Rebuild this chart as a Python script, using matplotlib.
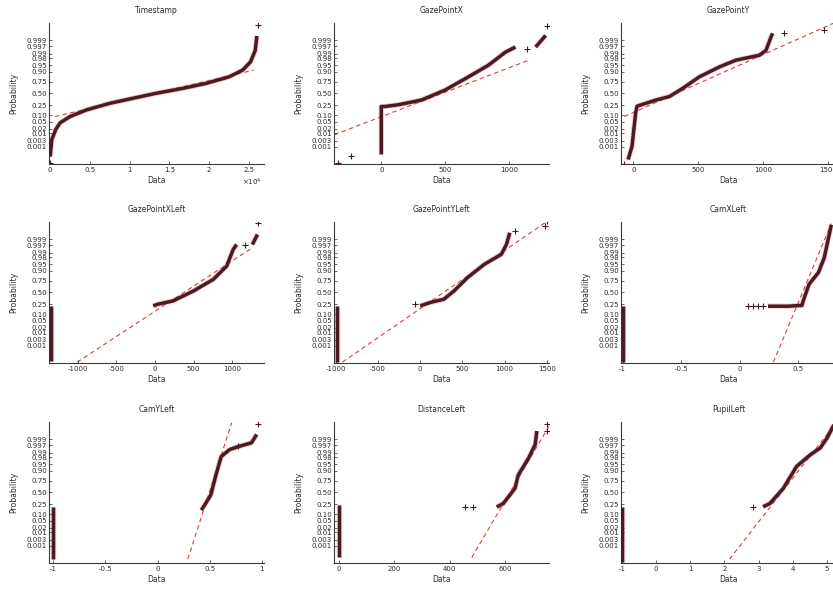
import matplotlib
matplotlib.use("Agg")
import matplotlib.pyplot as plt
import numpy as np
from statistics import NormalDist
from matplotlib.ticker import FixedLocator, FuncFormatter, NullLocator

# ---- data (x = data value, p = probability) ----

# Timestamp
ts_x = [0, 200, 700, 1250, 2500, 4600, 7500, 10400, 13300, 16700, 19600, 22500, 24200, 25200, 25800, 26000]
ts_p = [0.00012, 0.0036, 0.018, 0.044, 0.090, 0.171, 0.284, 0.390, 0.504, 0.618, 0.722, 0.834, 0.913, 0.967, 0.994, 0.9996]
ts_out_x = [0, 26100]
ts_out_p = [0.000025, 0.99997]
ts_ref_x = [600, 25600]
ts_ref_p = [0.090, 0.913]

# GazePointX
gx_x = [0, 0, 26, 131, 316, 500, 684, 842, 974, 1053]
gx_p = [0.00019, 0.224, 0.224, 0.255, 0.352, 0.579, 0.834, 0.951, 0.992, 0.9966]
gx_x2 = [1211, 1290]
gx_p2 = [0.9966, 0.99964]
gx_out_x = [-342, -237, 1145, 1303]
gx_out_p = [0.000027, 0.00013, 0.9956, 0.99996]
gx_ref_x = [-368, 1158]
gx_ref_p = [0.0082, 0.974]

# GazePointY
gy_x = [-40, -10, 18, 28, 175, 277, 380, 508, 662, 790, 969, 1021, 1059, 1072]
gy_p = [0.00006, 0.0011, 0.13, 0.230, 0.352, 0.429, 0.618, 0.834, 0.939, 0.974, 0.987, 0.994, 0.99948, 0.99977]
gy_out_x = [-69, 1158, 1466]
gy_out_p = [0.000018, 0.99977, 0.99988]
gy_ref_x = [-69, 1544]
gy_ref_p = [0.090, 0.99998]

# GazePointXLeft
gxl_col_x = [-1345, -1345]
gxl_col_p = [0.000037, 0.218]
gxl_x = [-22, 40, 235, 500, 757, 929, 1014, 1057]
gxl_p = [0.218, 0.248, 0.312, 0.536, 0.779, 0.938, 0.994, 0.9974]
gxl_x2 = [1262, 1327]
gxl_p2 = [0.9974, 0.99964]
gxl_out_x = [1164, 1340]
gxl_out_p = [0.9974, 0.999975]
gxl_ref_x = [-1005, 1262]
gxl_ref_p = [0.000025, 0.9955]

# GazePointYLeft
gyl_col_x = [-985, -985]
gyl_col_p = [0.000025, 0.218]
gyl_x = [0, 120, 280, 400, 560, 760, 960, 1020, 1060]
gyl_p = [0.218, 0.281, 0.348, 0.536, 0.808, 0.950, 0.987, 0.9974, 0.99975]
gyl_out_x = [-60, 1120, 1480, 1500]
gyl_out_p = [0.248, 0.99982, 0.99994, 0.999983]
gyl_ref_x = [-920, 1500]
gyl_ref_p = [0.000025, 0.999983]

# CamXLeft
cx_col_x = [-1, -1]
cx_col_p = [0.000025, 0.218]
cx_x = [0.24, 0.41, 0.53, 0.54, 0.59, 0.67, 0.72, 0.78]
cx_p = [0.212, 0.212, 0.227, 0.312, 0.684, 0.877, 0.979, 0.99996]
cx_out_x = [0.071, 0.114, 0.157, 0.20]
cx_out_p = [0.212, 0.212, 0.212, 0.212]
cx_ref_x = [0.286, 0.78]
cx_ref_p = [0.000025, 0.99997]

# CamYLeft
cy_col_x = [-1, -1]
cy_col_p = [0.000052, 0.203]
cy_x = [0.42, 0.45, 0.51, 0.56, 0.61, 0.69, 0.78, 0.90, 0.95]
cy_p = [0.152, 0.230, 0.440, 0.848, 0.982, 0.9938, 0.9964, 0.9981, 0.99964]
cy_out_x = [0.77, 0.96]
cy_out_p = [0.9966, 0.999964]
cy_ref_x = [0.29, 0.71]
cy_ref_p = [0.000052, 0.999975]

# DistanceLeft
dl_col_x = [0, 0]
dl_col_p = [0.000078, 0.23]
dl_x = [570, 594, 636, 648, 685, 709, 715]
dl_p = [0.200, 0.261, 0.595, 0.848, 0.977, 0.9974, 0.99983]
dl_out_x = [455, 485, 752, 752]
dl_out_p = [0.200, 0.200, 0.999964, 0.99983]
dl_ref_x = [480, 768]
dl_ref_p = [0.000078, 0.99998]

# PupilLeft
pl_col_x = [-1, -1]
pl_col_p = [0.000025, 0.203]
pl_x = [3.13, 3.33, 3.72, 4.11, 4.51, 4.80, 5.00, 5.20]
pl_p = [0.203, 0.261, 0.595, 0.936, 0.986, 0.9953, 0.99926, 0.99996]
pl_out_x = [2.83]
pl_out_p = [0.203]
pl_ref_x = [2.15, 5.24]
pl_ref_p = [0.000052, 0.99997]

prob_ticks = [0.001, 0.003, 0.01, 0.02, 0.05, 0.10, 0.25, 0.50, 0.75, 0.90, 0.95, 0.98, 0.99, 0.997, 0.999]
prob_labels = ["0.001", "0.003", "0.01", "0.02", "0.05", "0.10", "0.25", "0.50",
               "0.75", "0.90", "0.95", "0.98", "0.99", "0.997", "0.999"]

panels = [
    dict(title="Timestamp", segs=[(ts_x, ts_p)], out=(ts_out_x, ts_out_p), ref=(ts_ref_x, ts_ref_p),
         xlim=(-150, 26900), xticks=[0, 5000, 10000, 15000, 20000, 25000], scale=1e4),
    dict(title="GazePointX", segs=[(gx_x, gx_p), (gx_x2, gx_p2)], out=(gx_out_x, gx_out_p),
         ref=(gx_ref_x, gx_ref_p), xlim=(-371, 1316), xticks=[0, 500, 1000]),
    dict(title="GazePointY", segs=[(gy_x, gy_p)], out=(gy_out_x, gy_out_p), ref=(gy_ref_x, gy_ref_p),
         xlim=(-95, 1560), xticks=[0, 500, 1000, 1500]),
    dict(title="GazePointXLeft", segs=[(gxl_col_x, gxl_col_p), (gxl_x, gxl_p), (gxl_x2, gxl_p2)],
         out=(gxl_out_x, gxl_out_p), ref=(gxl_ref_x, gxl_ref_p), xlim=(-1370, 1412),
         xticks=[-1000, -500, 0, 500, 1000]),
    dict(title="GazePointYLeft", segs=[(gyl_col_x, gyl_col_p), (gyl_x, gyl_p)],
         out=(gyl_out_x, gyl_out_p), ref=(gyl_ref_x, gyl_ref_p), xlim=(-1020, 1524),
         xticks=[-1000, -500, 0, 500, 1000, 1500]),
    dict(title="CamXLeft", segs=[(cx_col_x, cx_col_p), (cx_x, cx_p)], out=(cx_out_x, cx_out_p),
         ref=(cx_ref_x, cx_ref_p), xlim=(-1.014, 0.82), xticks=[-1, -0.5, 0, 0.5]),
    dict(title="CamYLeft", segs=[(cy_col_x, cy_col_p), (cy_x, cy_p)], out=(cy_out_x, cy_out_p),
         ref=(cy_ref_x, cy_ref_p), xlim=(-1.04, 1.02), xticks=[-1, -0.5, 0, 0.5, 1]),
    dict(title="DistanceLeft", segs=[(dl_col_x, dl_col_p), (dl_x, dl_p)], out=(dl_out_x, dl_out_p),
         ref=(dl_ref_x, dl_ref_p), xlim=(-18, 759), xticks=[0, 200, 400, 600]),
    dict(title="PupilLeft", segs=[(pl_col_x, pl_col_p), (pl_x, pl_p)], out=(pl_out_x, pl_out_p),
         ref=(pl_ref_x, pl_ref_p), xlim=(-1.02, 5.26), xticks=[-1, 0, 1, 2, 3, 4, 5]),
]

# normal probability scale
_nd = NormalDist()


def to_z(p):
    p = np.clip(np.asarray(p, dtype=float), 1e-12, 1 - 1e-12)
    return np.vectorize(_nd.inv_cdf, otypes=[float])(p)


def to_p(z):
    return np.vectorize(_nd.cdf, otypes=[float])(np.asarray(z, dtype=float))


W, H = 833, 593
col_left = [49, 334, 621]
row_top = [23, 222, 422]
ax_w, ax_h = 215, 141

DARK = "#4a1b22"
TXT = "#2b2b2b"

fig = plt.figure(figsize=(W / 100, H / 100), dpi=100)

for i, pan in enumerate(panels):
    r, c = divmod(i, 3)
    ax = fig.add_axes([col_left[c] / W, 1 - (row_top[r] + ax_h) / H, ax_w / W, ax_h / H])
    ax.set_yscale("function", functions=(to_z, to_p))

    # reference line
    ax.plot(pan["ref"][0], pan["ref"][1], color="#e03c3c", lw=0.8, dashes=(4, 3), zorder=1)

    # data (dense '+' markers merge into a thick band)
    for sx, sp in pan["segs"]:
        ax.plot(sx, sp, color="#e06070", lw=3.8, alpha=0.35, zorder=2, solid_capstyle="butt")
        ax.plot(sx, sp, color=DARK, lw=2.5, zorder=3, solid_capstyle="butt", solid_joinstyle="round")
    ax.plot(pan["out"][0], pan["out"][1], "+", color=DARK, ms=4, mew=0.8, zorder=3)

    ax.set_ylim(2e-5, 1 - 2e-5)
    ax.set_xlim(*pan["xlim"])
    ax.yaxis.set_major_locator(FixedLocator(prob_ticks))
    ax.yaxis.set_minor_locator(NullLocator())
    ax.set_yticklabels(prob_labels)
    ax.set_xticks(pan["xticks"])
    if "scale" in pan:
        ax.xaxis.set_major_formatter(FuncFormatter(lambda v, pos: f"{v / 1e4:g}"))
        ax.text(0.99, -0.13, r"$\times10^{4}$", transform=ax.transAxes, ha="right", va="center",
                fontsize=5, color=TXT)
    else:
        ax.xaxis.set_major_formatter(FuncFormatter(lambda v, pos: f"{v:g}"))

    for side in ["top", "right"]:
        ax.spines[side].set_visible(False)
    for side in ["left", "bottom"]:
        ax.spines[side].set_color("#3a3a3a")
        ax.spines[side].set_linewidth(0.8)

    ax.tick_params(axis="y", direction="in", length=2.5, width=0.5, labelsize=5, pad=1.5,
                   colors=TXT)
    ax.tick_params(axis="x", direction="in", length=2.5, width=0.5, labelsize=5, pad=2,
                   colors=TXT)

    ax.set_title(pan["title"], fontsize=5.5, color=TXT, pad=7)
    ax.set_xlabel("Data", fontsize=5.5, color=TXT, labelpad=2)
    ax.set_ylabel("Probability", fontsize=5.5, color=TXT, labelpad=6)

fig.savefig("out.png", dpi=100)
